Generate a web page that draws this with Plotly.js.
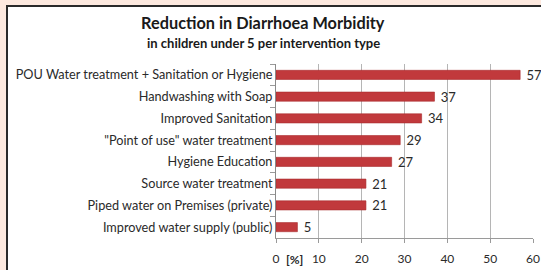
<!DOCTYPE html>
<html>
<head>
<meta charset="utf-8">
<script src="https://cdn.plot.ly/plotly-3.0.1.min.js"></script>
<style>
  html, body { margin:0; padding:0; background:#fde9df; width:541px; height:270px; overflow:hidden; }
  #frame { position:absolute; left:6px; top:5px; width:545px; height:275px; border-left:2px solid #2a2a2a; border-top:2px solid #2a2a2a; background:#ffffff; }
  #chart { position:absolute; left:0; top:0; width:533px; height:263px; }
</style>
</head>
<body>
<div id="frame"><div id="chart"></div></div>
<script>
const categories = [
  "POU Water treatment + Sanitation or Hygiene",
  "Handwashing with Soap",
  "Improved Sanitation",
  "\"Point of use\" water treatment",
  "Hygiene Education",
  "Source water treatment",
  "Piped water on Premises (private)",
  "Improved water supply (public)"
];
const values = [57, 37, 34, 29, 27, 21, 21, 5];
const xTicks = [0, 10, 20, 30, 40, 50, 60];
const titleText = "Reduction in Diarrhoea Morbidity";
const subtitleText = "in children under 5 per intervention type";
const unitText = "[%]";

const font = "Lato, 'Open Sans', sans-serif";

const trace = {
  type: "bar",
  orientation: "h",
  x: values,
  y: categories,
  text: values.map(v => "\u00a0" + v),
  textposition: "outside",
  constraintext: "none",
  cliponaxis: false,
  textfont: { family: font, size: 13, color: "#2a2a2a" },
  marker: { color: "#c1393c", line: { color: "#a82b2e", width: 0.6 } },
  width: 0.42,
  hoverinfo: "skip"
};

const layout = {
  width: 533,
  height: 263,
  margin: { l: 268, r: 8, t: 57, b: 32 },
  paper_bgcolor: "#ffffff",
  plot_bgcolor: "#ffffff",
  showlegend: false,
  font: { family: font, color: "#2a2a2a" },
  title: {
    text: "<b>" + titleText + "</b>",
    font: { family: font, size: 16.3, color: "#1a1a1a" },
    x: 0.478, xanchor: "center", xref: "container",
    y: 0.938, yanchor: "middle", yref: "container"
  },
  xaxis: {
    range: [0, 60],
    tickvals: xTicks,
    ticktext: xTicks.map(String),
    showgrid: true,
    gridcolor: "#b5b5b5",
    gridwidth: 1,
    zeroline: false,
    showline: true,
    linecolor: "#9a9a9a",
    linewidth: 1,
    ticks: "outside",
    ticklen: 4,
    tickcolor: "#9a9a9a",
    ticklabelstandoff: 6,
    tickfont: { family: font, size: 12, color: "#2a2a2a" },
    fixedrange: true
  },
  yaxis: {
    type: "category",
    autorange: "reversed",
    showgrid: false,
    showline: true,
    linecolor: "#8a8a8a",
    linewidth: 1,
    ticks: "outside",
    tickson: "boundaries",
    ticklen: 5,
    tickcolor: "#9a9a9a",
    tickfont: { family: font, size: 12.7, color: "#2a2a2a" },
    fixedrange: true
  },
  annotations: [
    {
      text: "<b>" + subtitleText + "</b>",
      x: -0.05, xref: "paper",
      y: 1.121, yref: "paper",
      xanchor: "center", yanchor: "middle",
      showarrow: false,
      font: { family: font, size: 13, color: "#1a1a1a" }
    },
    {
      text: "<b>" + unitText + "</b>",
      x: 4.4, xref: "x",
      y: 0, yref: "paper",
      yanchor: "top", yshift: -12,
      showarrow: false,
      font: { family: font, size: 12, color: "#2a2a2a" }
    }
  ]
};

Plotly.newPlot("chart", [trace], layout, { displayModeBar: false, staticPlot: true });
</script>
</body>
</html>
